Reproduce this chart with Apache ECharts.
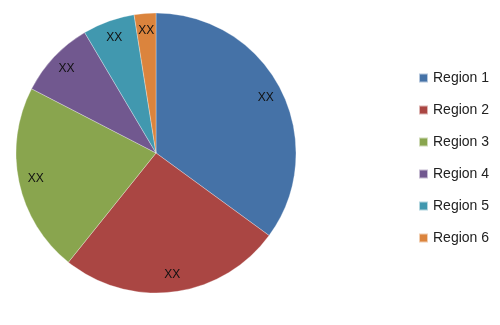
<!DOCTYPE html>
<html><head><meta charset="utf-8">
<script src="https://cdn.jsdelivr.net/npm/echarts@6/dist/echarts.min.js"></script>
<style>html,body{margin:0;padding:0;background:#fff}#c{width:500px;height:325px}</style>
</head><body><div id="c"></div>
<script>
var categories = ['Region 1','Region 2','Region 3','Region 4','Region 5','Region 6'];
var values = [35.0, 25.7, 21.8, 8.9, 6.0, 2.5];
var labels = ['XX','XX','XX','XX','XX','XX'];
var colors = ['#4572A7','#AA4643','#89A54E','#71588F','#4198AF','#DB843D'];

var data = categories.map(function(n,i){return {name:n, value:values[i], label:labels[i]};});
var chart = echarts.init(document.getElementById('c'), null, {renderer:'canvas'});
chart.setOption({
  animation:false,
  color: colors,
  legend:{
    orient:'vertical', left:413, top:66,
    itemWidth:9, itemHeight:9, itemGap:18, icon:'rect',
    textStyle:{fontFamily:'Liberation Sans, Arial, sans-serif', fontSize:14, color:'#222'},
    data: categories
  },
  series:[
    {
      type:'pie', center:[156,153], radius:[0,140], startAngle:90, clockwise:true,
      itemStyle:{borderColor:'rgba(255,255,255,0.6)', borderWidth:0.5},
      label:{show:false}, labelLine:{show:false}, silent:true,
      data: data.map(function(d){return {name:d.name, value:d.value};})
    },
    {
      type:'pie', center:[156,153], radius:[98,142], startAngle:90, clockwise:true,
      itemStyle:{color:'rgba(0,0,0,0)'}, silent:true, legendHoverLink:false,
      label:{show:true, position:'inside', color:'#111', fontSize:12,
        fontFamily:'Liberation Sans, Arial, sans-serif',
        formatter:function(p){return labels[p.dataIndex];}},
      labelLine:{show:false},
      data: data.map(function(d){return {name:d.name, value:d.value};})
    }
  ]
});
</script></body></html>
